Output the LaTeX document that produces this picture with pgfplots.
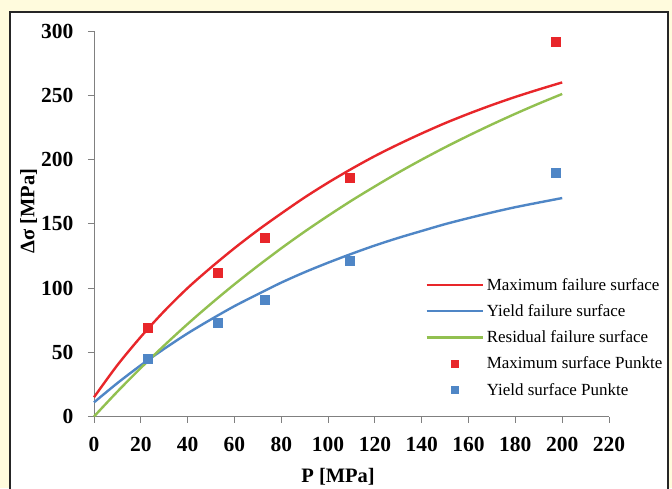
\documentclass[border=0pt]{standalone}
\usepackage{fontspec}
\setmainfont{Liberation Serif}
\usepackage{pgfplots}
\pgfplotsset{compat=1.18}
\definecolor{bgyellow}{HTML}{FFFBDD}
\definecolor{cred}{HTML}{E8262A}
\definecolor{cblue}{HTML}{4F86C6}
\definecolor{cgreen}{HTML}{92C050}
\definecolor{axgray}{HTML}{808080}
\pgfplotsset{
  lineleg/.style={legend image code/.code={\draw[##1] (0pt,0pt) -- (56pt,0pt);}},
  markleg/.style={legend image code/.code={\draw[##1, mark size=3.5pt] plot coordinates {(28pt,0pt)};}},
}
\begin{document}
\begin{tikzpicture}[x=1pt,y=1pt]
\useasboundingbox (0,0) rectangle (672,-488);
\fill[bgyellow] (0,0) rectangle (672,-488);
\fill[white] (10,-12) rectangle (668,-490);
\draw[black!85,line width=1.2pt] (10,-490) -- (10,-12) -- (668,-12) -- (668,-490);
\begin{axis}[
  at={(94pt,-416.5pt)}, anchor=south west,
  scale only axis, width=515pt, height=385.5pt,
  xmin=0, xmax=220, ymin=0, ymax=300,
  axis lines=left, axis line style={axgray, line width=1pt, -},
  xtick={0,20,...,220}, ytick={0,50,...,300},
  tick align=outside, major tick length=6pt,
  tick style={axgray, line width=1pt},
  /pgf/number format/assume math mode=true,
  tick label style={font=\fontsize{21.5}{25}\selectfont\bfseries},
  xticklabel style={yshift=-11pt},
  yticklabel style={xshift=-11pt},
  xlabel={P [MPa]}, ylabel={Δσ [MPa]},
  label style={font=\fontsize{20.5}{24}\selectfont\bfseries},
  xlabel style={at={(axis description cs:0.474,-0.157)}, anchor=center},
  ylabel style={at={(axis description cs:-0.127,0.533)}, anchor=center},
  legend style={draw=none, fill=none, at={(axis description cs:0.643,0.364)}, anchor=north west,
    font=\fontsize{17}{20}\selectfont, row sep=8.7pt, inner sep=0pt,
    /tikz/every odd column/.append style={column sep=1pt},
    legend cell align=left},
  clip=false,
]
\addplot[cred, line width=2.4pt, smooth, lineleg] coordinates {
 (0,15) (10,40) (20,62) (30,82) (40,100) (50,116) (60,131) (70,145) (80,158) (90,170.5)
 (100,182) (110,192.7) (120,202.7) (130,211.8) (140,220.3) (150,228.3) (160,235.6)
 (170,242.4) (180,248.7) (190,254.5) (200,260)};
\addlegendentry{Maximum failure surface}
\addplot[cblue, line width=2.4pt, smooth, lineleg] coordinates {
 (0,11) (10,26) (20,39.9) (30,52.7) (40,64.7) (50,75.6) (60,85.9) (70,95.2) (80,104.2)
 (90,112.3) (100,119.7) (110,126.6) (120,133.1) (130,139) (140,144.4) (150,149.7)
 (160,154.4) (170,158.8) (180,162.9) (190,166.5) (200,170)};
\addlegendentry{Yield failure surface}
\addplot[cgreen, line width=2.4pt, smooth, lineleg] coordinates {
 (0,0) (10,19.4) (20,37.8) (30,55.3) (40,72) (50,87.8) (60,102.9) (70,117.2) (80,130.9)
 (90,143.9) (100,156.2) (110,168) (120,179.1) (130,189.8) (140,199.9) (150,209.5)
 (160,218.6) (170,227.3) (180,235.6) (190,243.5) (200,251)};
\addlegendentry{Residual failure surface}
\addplot[only marks, mark=square*, mark size=4.5pt, color=cred, markleg] coordinates {
 (23.1,69.4) (53,112) (73,139.5) (109.4,186) (197.4,292)};
\addlegendentry{Maximum surface Punkte}
\addplot[only marks, mark=square*, mark size=4.5pt, color=cblue, markleg] coordinates {
 (23,45) (53,73) (73,91) (109.4,121.5) (197.4,190)};
\addlegendentry{Yield surface Punkte}
\end{axis}
\end{tikzpicture}
\end{document}
